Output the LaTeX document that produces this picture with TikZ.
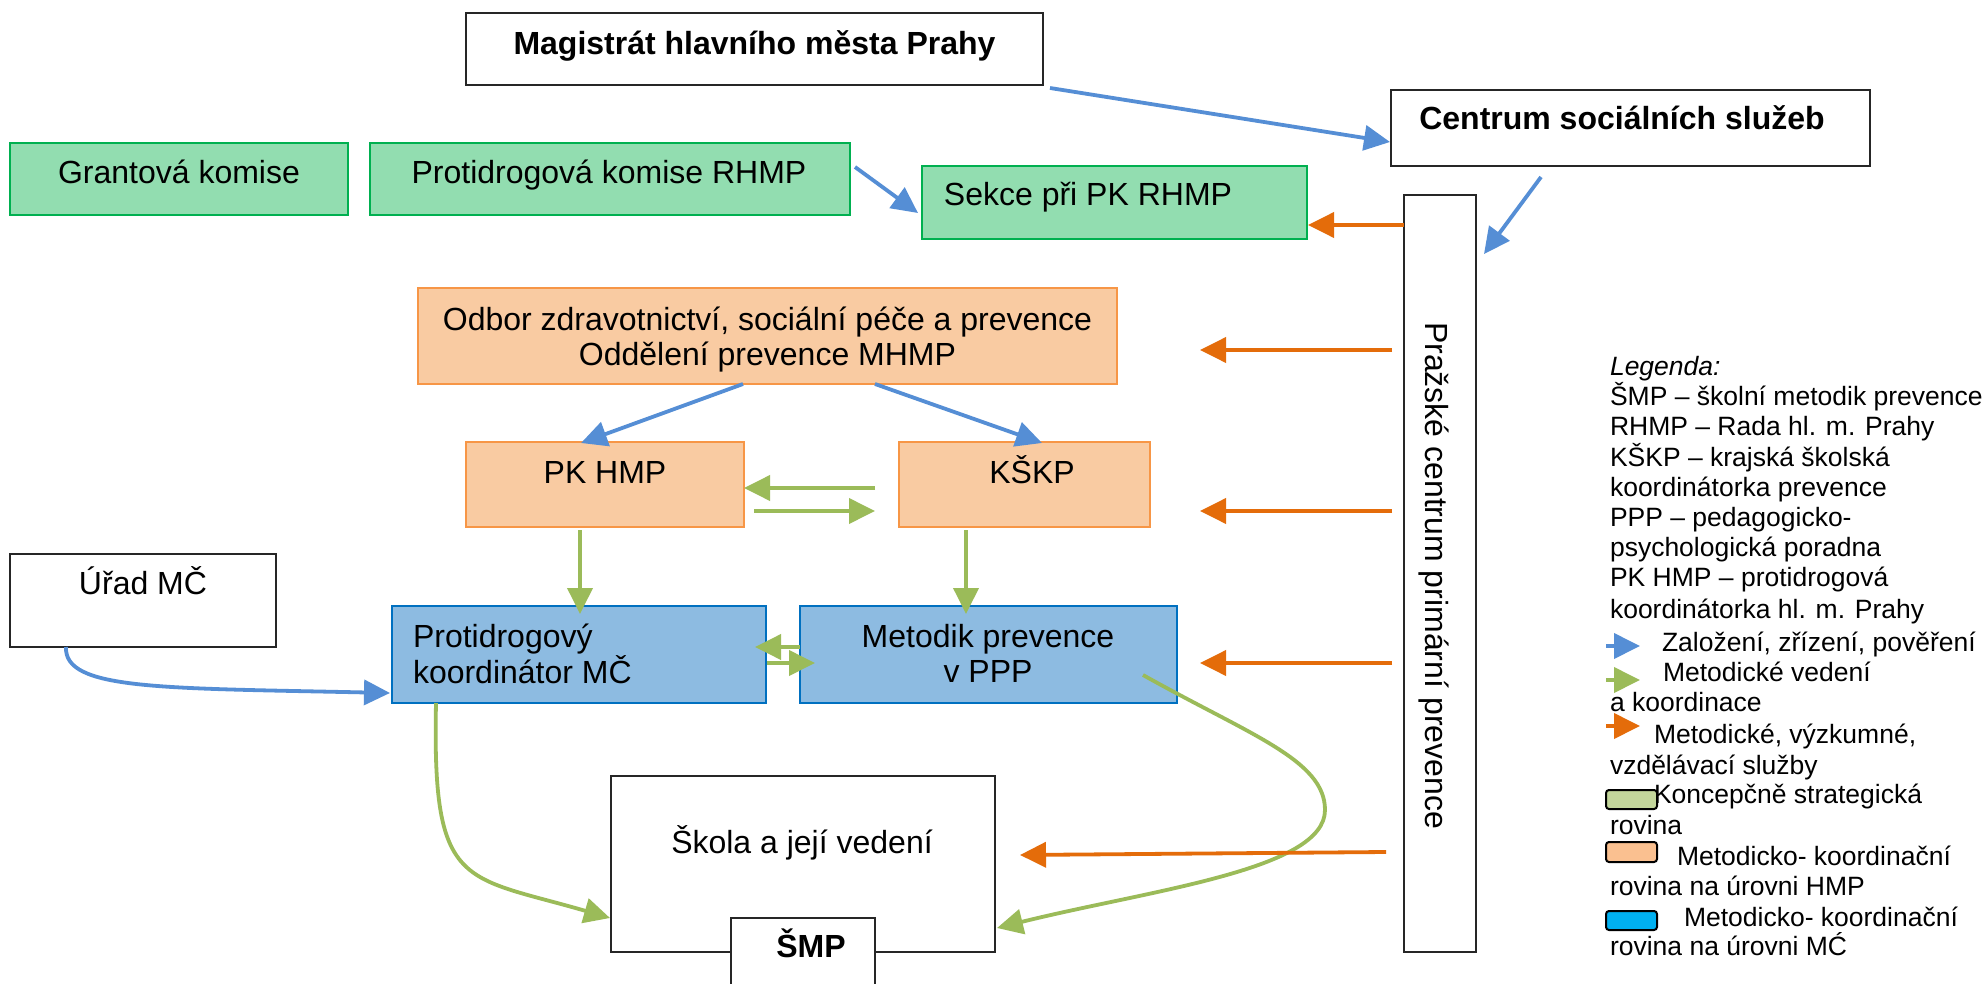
\documentclass[tikz,border=0pt]{standalone}
\usepackage{fontspec}
\setmainfont{Liberation Sans}
\usetikzlibrary{arrows.meta,calc}
\definecolor{grfill}{RGB}{146,221,176}
\definecolor{grborder}{RGB}{0,176,80}
\definecolor{orfill}{RGB}{249,203,162}
\definecolor{orborder}{RGB}{247,150,70}
\definecolor{blfill}{RGB}{141,187,225}
\definecolor{blborder}{RGB}{0,112,192}
\definecolor{arrblue}{RGB}{85,142,213}
\definecolor{arrgreen}{RGB}{155,187,89}
\definecolor{arrorange}{RGB}{228,108,10}
\definecolor{swgreen}{RGB}{195,214,155}
\definecolor{sworange}{RGB}{250,192,144}
\definecolor{swblue}{RGB}{0,176,240}
\begin{document}
\begin{tikzpicture}[x=1pt,y=-1pt,
  every node/.style={inner sep=0pt, outer sep=0pt},
  plainbox/.style={draw=black!85, line width=2.2pt, fill=white},
  greenbox/.style={draw=grborder, line width=2pt, fill=grfill},
  orbox/.style={draw=orborder, line width=2pt, fill=orfill},
  bluebox/.style={draw=blborder, line width=2pt, fill=blfill},
  txt/.style={font=\fontsize{32}{35}\selectfont, anchor=base},
  btxt/.style={font=\fontsize{32}{35}\selectfont\bfseries, anchor=base},
  legtxt/.style={font=\fontsize{26.5}{30.5}\selectfont, anchor=base west},
  arrtip/.style={-{Triangle[length=26pt,width=25pt]}},
  barr/.style={draw=arrblue, line width=3.8pt, arrtip},
  garr/.style={draw=arrgreen, line width=3.8pt, arrtip},
  oarr/.style={draw=arrorange, line width=3.8pt, arrtip},
  swatch/.style={draw=black, line width=2pt, rounded corners=3pt}
]
\clip (0,0) rectangle (1988,984);
\fill[white] (0,0) rectangle (1988,984);

% ---------- boxes ----------
\node[plainbox, minimum width=577pt, minimum height=72pt] (mag) at (754.5,49) {};
\node[btxt] (magt) at (754.5,55) {Magistrát hlavního města Prahy};

\node[plainbox, minimum width=479pt, minimum height=76pt] (cent) at (1630.5,128) {};
\node[btxt] (centt) at (1622,130) {Centrum sociálních služeb};

\node[greenbox, minimum width=338pt, minimum height=72pt] (grant) at (179,179) {};
\node[txt] (grantt) at (179,184) {Grantová komise};

\node[greenbox, minimum width=480pt, minimum height=72pt] (pkom) at (610,179) {};
\node[txt] (pkomt) at (609,184) {Protidrogová komise RHMP};

\node[greenbox, minimum width=385pt, minimum height=73pt] (sekce) at (1114.5,202.5) {};
\node[txt] (sekcet) at (1088,206) {Sekce při PK RHMP};

\node[plainbox, minimum width=72pt, minimum height=757pt] (pcpp) at (1440,573.5) {};
\node[txt, rotate=-90] (pcppt) at (1425,575.5) {Pražské centrum primární prevence};

\node[orbox, minimum width=699pt, minimum height=96pt] (odbor) at (767.5,336) {};
\node[txt] (odbort1) at (767.5,330) {Odbor zdravotnictví, sociální péče a prevence};
\node[txt] (odbort2) at (767.5,365) {Oddělení prevence MHMP};

\node[orbox, minimum width=278pt, minimum height=85pt] (pkhmp) at (605,484.5) {};
\node[txt] (pkhmpt) at (605,483) {PK HMP};

\node[orbox, minimum width=251pt, minimum height=85pt] (kskp) at (1024.5,484.5) {};
\node[txt] (kskpt) at (1032,483) {KŠKP};

\node[plainbox, minimum width=266pt, minimum height=93pt] (urad) at (143,600.5) {};
\node[txt] (uradt) at (143,594) {Úřad MČ};

\node[bluebox, minimum width=374pt, minimum height=97pt] (pkmc) at (579,654.5) {};
\node[txt, anchor=base west] (pkmct1) at (413,647) {Protidrogový};
\node[txt, anchor=base west] (pkmct2) at (413,683) {koordinátor MČ};

\node[bluebox, minimum width=377pt, minimum height=97pt] (mpp) at (988.5,654.5) {};
\node[txt] (mppt1) at (988,647) {Metodik prevence};
\node[txt] (mppt2) at (988,682) {v PPP};

\node[plainbox, minimum width=384pt, minimum height=176pt] (skola) at (803,864) {};
\node[txt] (skolat) at (802,853) {Škola a její vedení};

\node[plainbox, minimum width=144pt, minimum height=84pt] (smp) at (803,960) {};
\node[btxt] (smpt) at (811,957) {ŠMP};

% ---------- blue connectors ----------
\draw[barr] ($(mag.south east)+(7,3)$) -- ($(cent.west)+(-1,14)$);
\draw[barr] ($(cent.south)+(-89.5,11)$) -- ($(pcpp.north east)+(8,59)$);
\draw[barr] ($(pkom.east)+(5,-12)$) -- ($(sekce.west)+(-4,10.5)$);
\draw[barr] ($(odbor.south)+(-24.5,0)$) -- ($(pkhmp.north)+(-24,1)$);
\draw[barr] ($(odbor.south)+(107.5,0)$) -- ($(kskp.north)+(17.5,1)$);
\draw[barr] ($(urad.south)+(-77,0)$) .. controls (64,690) and (160,688) .. ($(pkmc.west)+(-2,38.5)$);

% ---------- green connectors ----------
\draw[garr] ($(kskp.west)+(-24,3.5)$) -- (pkhmp.east |- 0,488);
\draw[garr] ($(pkhmp.east)+(10,26.5)$) -- ($(kskp.west)+(-24,26.5)$);
\draw[garr] ($(pkhmp.south)+(-25,3)$) -- ($(pkmc.north)+(1,8)$);
\draw[garr] ($(kskp.south)+(-58.5,3)$) -- ($(mpp.north)+(-22.5,8)$);
\draw[garr] (mpp.west |- 0,647) -- ($(pkmc.east)+(-11,-7.5)$);
\draw[garr] ($(pkmc.east)+(1,8.5)$) -- ($(mpp.west)+(15,8.5)$);
\draw[garr] ($(pkmc.south)+(-143,0)$) .. controls (432,890) and (462,875) .. ($(skola.west)+(-1,54)$);
\draw[garr] ($(mpp.east)+(-34,20.5)$) .. controls (1250,735) and (1325,760) .. (1325,810)
   .. controls (1325,870) and (1150,890) .. ($(skola.east)+(2,64)$);

% ---------- orange connectors ----------
\draw[oarr] ($(pcpp.west)+(0,-348.5)$) -- ($(sekce.east)+(1,22.5)$);
\draw[oarr] ($(pcpp.west)+(-12,-223.5)$) -- ($(odbor.east)+(83,14)$);
\draw[oarr] ($(pcpp.west)+(-12,-62.5)$) -- ($(kskp.east)+(50,26.5)$);
\draw[oarr] ($(pcpp.west)+(-12,89.5)$) -- ($(mpp.east)+(23,8.5)$);
\draw[oarr] ($(pcpp.west)+(-18,278.5)$) -- ($(skola.east)+(25,-9)$);

% ---------- legend ----------
\node[legtxt, font=\fontsize{26.5}{30.5}\selectfont\itshape] (lg0) at (1610,375) {Legenda:};
\node[legtxt] (lg1) at (1610,405) {ŠMP – školní metodik prevence};
\node[legtxt] (lg2) at (1610,435) {RHMP – Rada hl. m. Prahy};
\node[legtxt] (lg3) at (1610,466) {KŠKP – krajská školská};
\node[legtxt] (lg4) at (1610,496) {koordinátorka prevence};
\node[legtxt] (lg5) at (1610,526) {PPP – pedagogicko-};
\node[legtxt] (lg6) at (1610,556) {psychologická poradna};
\node[legtxt] (lg7) at (1610,586) {PK HMP – protidrogová};
\node[legtxt] (lg8) at (1610,618) {koordinátorka hl. m. Prahy};
\draw[barr] (1606,646) -- (1640,646);
\node[legtxt] (lg9) at (1662,651) {Založení, zřízení, pověření};
\draw[garr] (1606,680) -- (1640,680);
\node[legtxt] (lg10) at (1663,681) {Metodické vedení};
\node[legtxt] (lg11) at (1610,711) {a koordinace};
\draw[oarr] (1606,726) -- (1640,726);
\node[legtxt] (lg12) at (1654,743) {Metodické, výzkumné,};
\node[legtxt] (lg13) at (1610,774) {vzdělávací služby};
\draw[swatch, fill=swgreen] (1606,790) rectangle (1657,809);
\node[legtxt] (lg14) at (1654,803) {Koncepčně strategická};
\node[legtxt] (lg15) at (1610,834) {rovina};
\draw[swatch, fill=sworange] (1606,842) rectangle (1657,862);
\node[legtxt] (lg16) at (1677,865) {Metodicko- koordinační};
\node[legtxt] (lg17) at (1610,895) {rovina na úrovni HMP};
\draw[swatch, fill=swblue] (1606,911) rectangle (1657,930);
\node[legtxt] (lg18) at (1684,926) {Metodicko- koordinační};
\node[legtxt] (lg19) at (1610,955) {rovina na úrovni MĆ};
\end{tikzpicture}
\end{document}
